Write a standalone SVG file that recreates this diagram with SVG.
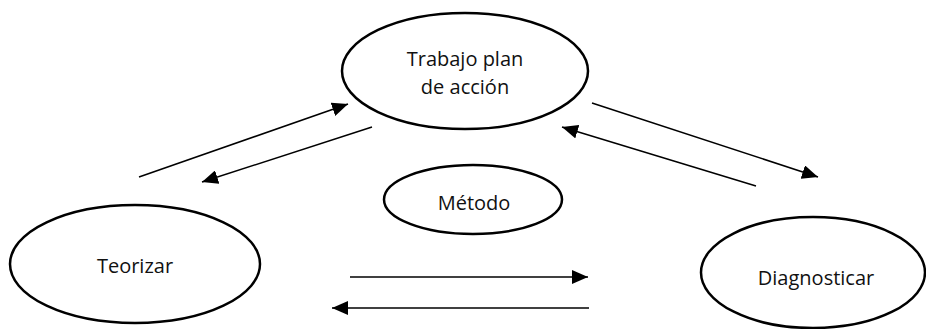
<svg xmlns="http://www.w3.org/2000/svg" width="926" height="329" viewBox="0 0 926 329">
<style>
.node ellipse{fill:#fff;stroke:#000;stroke-width:2.5}
.node text{font-family:"Open Sans","Noto Sans",sans-serif;font-size:20px;fill:#111;text-anchor:middle}
.conn line{stroke:#000;stroke-width:1.5;marker-end:url(#ah)}
</style>
<defs>
<marker id="ah" markerUnits="userSpaceOnUse" markerWidth="16" markerHeight="14" refX="16" refY="7" orient="auto">
<path d="M0,0 L16,7 L0,14 z" fill="#000"/>
</marker>
</defs>
<rect width="926" height="329" fill="#fff"/>
<g id="trabajo" class="node">
<ellipse cx="465" cy="71" rx="123" ry="58"/>
<text x="465" y="66">Trabajo plan</text>
<text x="465" y="94">de acción</text>
</g>
<g id="metodo" class="node">
<ellipse cx="473" cy="199.5" rx="89" ry="34.5"/>
<text x="474" y="210">Método</text>
</g>
<g id="teorizar" class="node">
<ellipse cx="135" cy="264" rx="125" ry="59"/>
<text x="135" y="273">Teorizar</text>
</g>
<g id="diagnosticar" class="node">
<ellipse cx="813" cy="272.5" rx="112" ry="55.5"/>
<text x="816" y="285">Diagnosticar</text>
</g>
<g id="connectors" class="conn">
<line x1="139" y1="177" x2="348" y2="104"/>
<line x1="372" y1="127" x2="202" y2="182"/>
<line x1="592" y1="103" x2="818" y2="177"/>
<line x1="756" y1="186" x2="562" y2="127"/>
<line x1="350" y1="277" x2="588" y2="277"/>
<line x1="589" y1="308" x2="332" y2="308"/>
</g>
</svg>
